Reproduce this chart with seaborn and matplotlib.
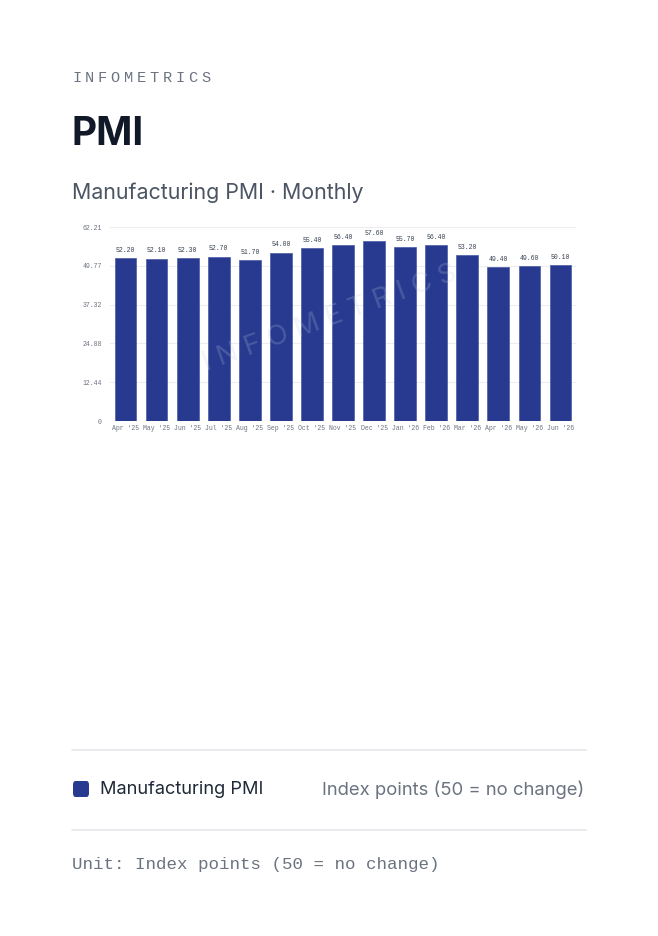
import matplotlib
matplotlib.use("Agg")
import matplotlib.pyplot as plt
import seaborn as sns
import pandas as pd
from matplotlib.patches import FancyBboxPatch
from matplotlib.lines import Line2D

months = ["Apr '25", "May '25", "Jun '25", "Jul '25", "Aug '25", "Sep '25", "Oct '25",
          "Nov '25", "Dec '25", "Jan '26", "Feb '26", "Mar '26", "Apr '26", "May '26", "Jun '26"]
pmi = [52.2, 52.1, 52.3, 52.7, 51.7, 54.0, 55.4, 56.4, 57.6, 55.7, 56.4, 53.2, 49.4, 49.6, 50.1]
yticks = [0, 12.44, 24.88, 37.32, 49.77, 62.21]
ytick_labels = ["0", "12.44", "24.88", "37.32", "49.77", "62.21"]

BAR = "#283a8f"
MONO = ["Liberation Mono", "DejaVu Sans Mono"]
sns.set_theme(style="white")
plt.rcParams['font.family'] = ['Inter', 'DejaVu Sans']

W, H = 658, 936
fig = plt.figure(figsize=(W / 100, H / 100), dpi=100)
fig.patch.set_facecolor("white")

def fx(px):
    return px / W

def fy(py):
    return 1 - py / H

ax = fig.add_axes([fx(110), fy(421), fx(576) - fx(110), fy(227) - fy(421)])
df = pd.DataFrame({"month": months, "pmi": pmi})
sns.barplot(data=df, x="month", y="pmi", color=BAR, width=0.7, ax=ax,
            saturation=1, edgecolor="#4a5aa6", linewidth=0.5, zorder=3)
ax.set_xlim(-0.5, len(months) - 0.5)
ax.set_ylim(0, 62.21)
ax.set_yticks(yticks)
ax.set_yticklabels(ytick_labels)
ax.set_xlabel("")
ax.set_ylabel("")
for s in ax.spines.values():
    s.set_visible(False)
ax.grid(axis="y", color="#ededed", linewidth=0.8, zorder=0)
ax.set_axisbelow(True)
ax.tick_params(axis="both", length=0, pad=3)
for lab in ax.get_xticklabels() + ax.get_yticklabels():
    lab.set_fontfamily(MONO)
    lab.set_fontsize(4.7)
    lab.set_color("#6b7280")
ax.tick_params(axis="y", pad=6)

for i, v in enumerate(pmi):
    ax.annotate(f"{v:.2f}", (i, v), xytext=(0, 3), textcoords="offset points",
                ha="center", va="bottom", fontsize=4.7, family=MONO,
                color="#374151", zorder=5)

# watermark
fig.text(fx(330), fy(318), "I N F O M E T R I C S", rotation=20, ha="center", va="center",
         fontsize=20, color="#c5cde6", alpha=0.22, zorder=10)

# header: letter-spaced brand
brand = "INFOMETRICS"
x0 = 72
step = 12.9
for k, ch in enumerate(brand):
    fig.text(fx(x0 + k * step), fy(78), ch, ha="left", va="center",
             fontsize=11, family=MONO, color="#6b7280")

fig.text(fx(71), fy(135), "PMI", ha="left", va="center", fontsize=28,
         fontweight="bold", color="#111827")
fig.text(fx(72), fy(193), "Manufacturing PMI · Monthly", ha="left", va="center",
         fontsize=15.4, color="#4b5563")

# divider lines
for yy in (750, 830):
    fig.add_artist(Line2D([fx(72), fx(586)], [fy(yy), fy(yy)], color="#e5e7eb",
                          linewidth=1.2))

# legend
fig.add_artist(FancyBboxPatch((fx(73), fy(797)), fx(16), fy(781) - fy(797),
                              boxstyle="round,pad=0,rounding_size=0.004",
                              facecolor=BAR, edgecolor="none",
                              transform=fig.transFigure))
fig.text(fx(100), fy(790), "Manufacturing PMI", ha="left", va="center",
         fontsize=13.1, color="#1f2937")
fig.text(fx(584), fy(790), "Index points (50 = no change)", ha="right", va="center",
         fontsize=13.3, color="#6b7280")

fig.text(fx(72), fy(865), "Unit: Index points (50 = no change)", ha="left",
         va="center", fontsize=12.6, family=MONO, color="#6b7280")

fig.savefig("out.png", dpi=100, facecolor="white")
